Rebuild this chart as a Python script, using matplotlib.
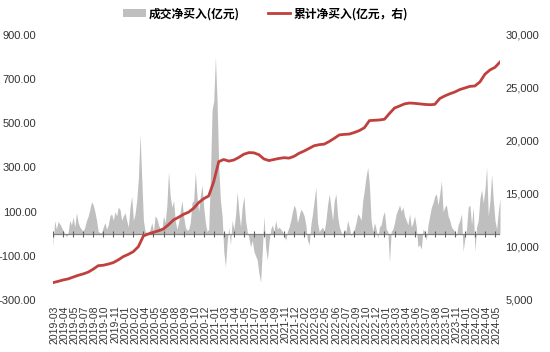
import matplotlib.pyplot as plt
import numpy as np
from matplotlib.patches import Patch
from matplotlib.lines import Line2D

plt.rcParams['font.family'] = ['Liberation Sans', 'Noto Sans CJK SC']

# weekly net buy (亿元), one value per week from 2019-03
net_buy = [
    -60, 60, 20, 55, 45, 30, 15, 0, -15, 5,
    60, 40, 75, 30, 95, 50, 30, 20, 10, 30,
    60, 80, 110, 145, 130, 100, 60, 10, 5, 5,
    30, 50, 20, 40, 80, 90, 60, 100, 80, 120,
    110, 60, 80, 95, 60, 30, 120, 170, 60, 90,
    150, 250, 450, 250, 60, 10, 5, 0, 20, 50,
    10, 80, 70, 40, 20, 15, 80, 50, 130, 280,
    170, 120, 150, 60, 20, 50, 100, 150, 80, 30,
    15, 20, 50, 140, 150, 280, 170, 100, 170, 220,
    120, 50, 10, 20, 250, 560, 600, 800, 600, 300,
    150, 80, -80, -150, -40, 30, -50, 60, 20, 80,
    190, 100, 30, 120, 170, 60, 10, -20, -60, -30,
    -80, -100, -120, -180, -220, -80, 80, -60, -120, -40,
    20, 40, 10, 60, 20, 30, 20, 10, -10, -30,
    10, 30, 60, 100, 130, 110, 50, 80, 110, 100,
    80, 40, -30, -50, 40, 90, 150, 210, 50, 10,
    20, 30, 10, 60, 130, 180, 120, 60, 150, 180,
    80, 30, 10, -10, 20, 10, 60, 30, -10, 10,
    20, 50, 90, 80, 60, 150, 200, 260, 300, 220,
    60, 10, 50, 20, -20, 30, 40, 80, 100, 20,
    10, -130, 10, 20, 50, 90, 110, 130, 100, 120,
    80, 60, 40, 90, 30, 50, 80, 30, -60, -50,
    -70, 20, 10, -30, 40, 80, 120, 140, 170, 180,
    130, 180, 240, 100, 120, 130, 80, 60, 30, 20,
    10, -10, 40, 60, 90, -80, -20, 20, 120, 130,
    40, 120, -80, 30, 60, 160, 200, 140, 200, 300,
    80, 150, 270, 150, 60, 20, 100, 160,
]

# cumulative net buy (亿元), read every third week
cum_step = 3
cum_buy = [
    6630, 6750, 6880, 6980, 7150, 7320, 7450, 7620, 7900, 8230,
    8270, 8380, 8520, 8780, 9090, 9300, 9560, 10030, 11040, 11230,
    11380, 11520, 11700, 12100, 12550, 12800, 13080, 13280, 13650, 14180,
    14550, 14810, 16160, 18050, 18250, 18100, 18200, 18450, 18750, 18900,
    18880, 18700, 18300, 18150, 18250, 18350, 18420, 18380, 18550, 18840,
    19050, 19300, 19550, 19650, 19700, 19950, 20250, 20570, 20620, 20650,
    20800, 20980, 21250, 21920, 21950, 21980, 22050, 22600, 23110, 23300,
    23500, 23580, 23550, 23500, 23450, 23420, 23450, 24000, 24250, 24450,
    24620, 24850, 25000, 25150, 25190, 25570, 26300, 26700, 26950, 27450,
]

tick_labels = [
    '2019-03', '2019-04', '2019-05', '2019-07', '2019-08', '2019-10', '2019-11',
    '2020-01', '2020-02', '2020-04', '2020-05', '2020-06', '2020-08', '2020-09',
    '2020-10', '2020-12', '2021-01', '2021-03', '2021-04', '2021-05', '2021-07',
    '2021-08', '2021-09', '2021-11', '2021-12', '2022-02', '2022-03', '2022-05',
    '2022-06', '2022-07', '2022-09', '2022-10', '2022-12', '2023-01', '2023-03',
    '2023-04', '2023-06', '2023-07', '2023-08', '2023-10', '2023-11', '2024-01',
    '2024-02', '2024-04', '2024-05',
]

gray = '#BFBFBF'
red = '#C0403D'
txt = '#333333'

n = len(net_buy)
x = np.arange(n)
x_cum = np.arange(len(cum_buy)) * cum_step

fig = plt.figure(figsize=(5.5, 3.52), dpi=100)
ax = fig.add_axes([0.0964, 0.148, 0.8127, 0.7526])
ax2 = ax.twinx()

ax.fill_between(x, net_buy, 0, color=gray, lw=0)
ax.axhline(0, color='#808080', lw=0.9)
tick_pos = np.arange(0, n, 6)
ax.plot(tick_pos, np.zeros(len(tick_pos)), linestyle='none', marker='|',
        color='#606060', markersize=4, markeredgewidth=0.8)

ax2.plot(x_cum, cum_buy, color=red, lw=2)

ax.set_xlim(0, n - 1)
ax.set_ylim(-300, 900)
ax.set_yticks(np.arange(-300, 901, 200))
ax.set_yticklabels([f'{v:.2f}' for v in np.arange(-300, 901, 200)])
ax2.set_ylim(5000, 30000)
ax2.set_yticks(np.arange(5000, 30001, 5000))
ax2.set_yticklabels([f'{v:,}' for v in range(5000, 30001, 5000)])

ax.set_xticks(np.arange(len(tick_labels)) * 6 + 1)
ax.set_xticklabels(tick_labels, rotation=90, fontsize=7.5, color=txt)

for a in (ax, ax2):
    for s in a.spines.values():
        s.set_visible(False)
ax.tick_params(axis='x', length=0, pad=4)
ax.tick_params(axis='y', length=0, pad=12, labelsize=8, labelcolor=txt)
ax2.tick_params(axis='y', length=0, pad=4, labelsize=8, labelcolor=txt)

handles = [Patch(facecolor=gray, edgecolor='none'),
           Line2D([], [], color=red, lw=2)]
fig.legend(handles, ['成交净买入(亿元)', '累计净买入(亿元，右)'],
           loc='upper center', bbox_to_anchor=(0.483, 1.01), ncol=2,
           frameon=False, handlelength=1.9, handleheight=0.7,
           columnspacing=2.4, handletextpad=0.25,
           prop={'family': ['Noto Sans CJK SC'], 'weight': 'bold', 'size': 8.5})

fig.savefig('out.png', dpi=100)
